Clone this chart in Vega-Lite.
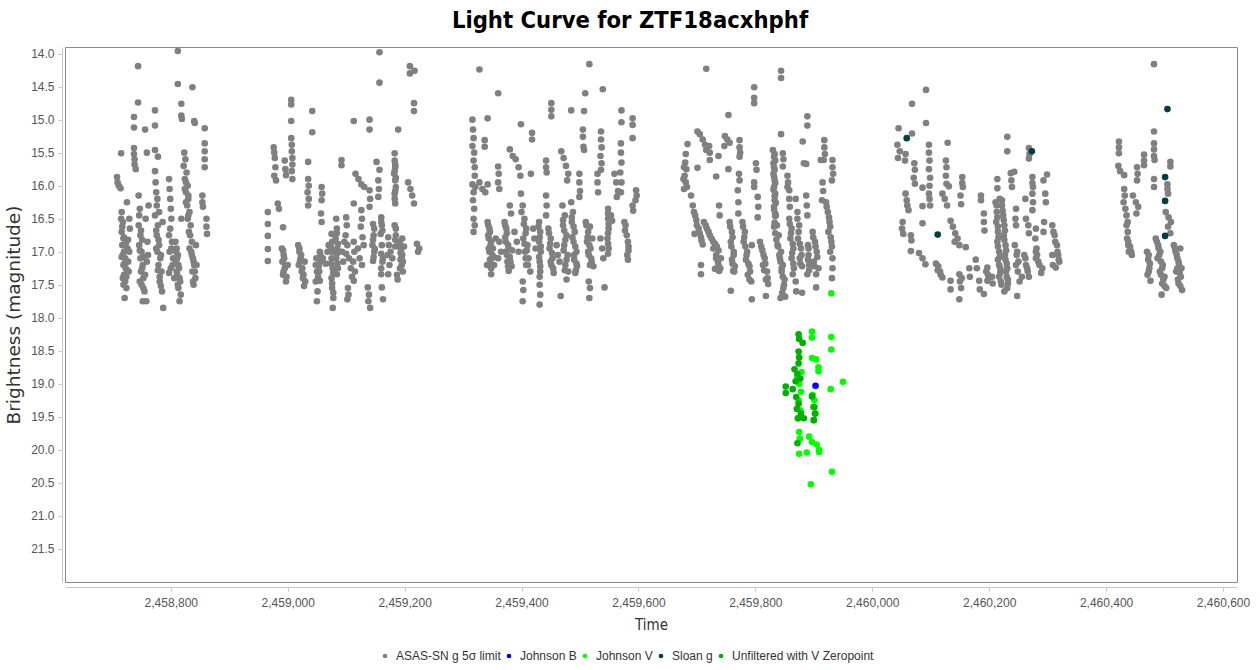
{
"$schema":"https://vega.github.io/schema/vega-lite/v6.json",
"autosize":{"type":"none"},
"width":1172,"height":535,
"padding":{"left":65,"top":47,"right":23,"bottom":88},
"background":"white",
"title":{"text":"Light Curve for ZTF18acxhphf","font":"Liberation Sans Narrow, DejaVu Sans Condensed, sans-serif","fontSize":23.6,"fontWeight":"bold","color":"#000000","anchor":"middle","dx":-21,"offset":14},
"config":{"view":{"stroke":"#8a8a8a","strokeWidth":1},"font":"Liberation Sans"},
"data":{"values":[
{"t":2458812,"m":13.96,"band":"A"},{"t":2458744,"m":14.19,"band":"A"},{"t":2458812,"m":14.46,"band":"A"},{"t":2458837,"m":14.51,"band":"A"},{"t":2458744,"m":14.74,"band":"A"},{"t":2458818,"m":14.76,"band":"A"},{"t":2458818,"m":14.94,"band":"A"},{"t":2458819,"m":14.99,"band":"A"},{"t":2458773,"m":14.86,"band":"A"},{"t":2458737,"m":14.96,"band":"A"},{"t":2458737,"m":15.12,"band":"A"},{"t":2458756,"m":15.15,"band":"A"},{"t":2458773,"m":15.09,"band":"A"},{"t":2458840,"m":15.02,"band":"A"},{"t":2458841,"m":15.05,"band":"A"},{"t":2458858,"m":15.13,"band":"A"},{"t":2458858,"m":15.36,"band":"A"},{"t":2458858,"m":15.48,"band":"A"},{"t":2458858,"m":15.6,"band":"A"},{"t":2458858,"m":15.72,"band":"A"},
{"t":2458715,"m":15.51,"band":"A"},{"t":2458737,"m":15.43,"band":"A"},{"t":2458737,"m":15.52,"band":"A"},{"t":2458738,"m":15.6,"band":"A"},{"t":2458738,"m":15.68,"band":"A"},{"t":2458740,"m":15.75,"band":"A"},{"t":2458759,"m":15.5,"band":"A"},{"t":2458773,"m":15.46,"band":"A"},{"t":2458778,"m":15.56,"band":"A"},
{"t":2458708,"m":15.87,"band":"A"},{"t":2458709,"m":15.95,"band":"A"},{"t":2458711,"m":16.0,"band":"A"},{"t":2458714,"m":16.04,"band":"A"},
{"t":2458716,"m":16.4,"band":"A"},{"t":2458718,"m":16.55,"band":"A"},{"t":2458716,"m":16.7,"band":"A"},{"t":2458719,"m":16.8,"band":"A"},{"t":2458717,"m":16.9,"band":"A"},{"t":2458720,"m":17.0,"band":"A"},{"t":2458718,"m":17.05,"band":"A"},{"t":2458722,"m":17.1,"band":"A"},{"t":2458719,"m":17.2,"band":"A"},{"t":2458723,"m":17.25,"band":"A"},{"t":2458720,"m":17.35,"band":"A"},{"t":2458722,"m":17.45,"band":"A"},{"t":2458724,"m":17.55,"band":"A"},{"t":2458721,"m":17.7,"band":"A"},{"t":2458726,"m":16.95,"band":"A"},{"t":2458727,"m":17.15,"band":"A"},{"t":2458725,"m":16.25,"band":"A"},{"t":2458729,"m":16.5,"band":"A"},{"t":2458730,"m":16.65,"band":"A"},{"t":2458728,"m":17.3,"band":"A"},
{"t":2458745,"m":16.15,"band":"A"},{"t":2458747,"m":16.35,"band":"A"},{"t":2458745,"m":16.6,"band":"A"},{"t":2458748,"m":16.75,"band":"A"},{"t":2458746,"m":16.9,"band":"A"},{"t":2458750,"m":17.0,"band":"A"},{"t":2458748,"m":17.1,"band":"A"},{"t":2458752,"m":17.2,"band":"A"},{"t":2458749,"m":17.3,"band":"A"},{"t":2458753,"m":17.4,"band":"A"},{"t":2458750,"m":17.5,"band":"A"},{"t":2458755,"m":17.6,"band":"A"},{"t":2458752,"m":17.75,"band":"A"},{"t":2458758,"m":17.75,"band":"A"},{"t":2458757,"m":16.5,"band":"A"},{"t":2458760,"m":16.85,"band":"A"},{"t":2458761,"m":17.05,"band":"A"},{"t":2458762,"m":16.3,"band":"A"},
{"t":2458773,"m":15.78,"band":"A"},{"t":2458774,"m":15.95,"band":"A"},{"t":2458775,"m":16.1,"band":"A"},{"t":2458776,"m":16.3,"band":"A"},{"t":2458773,"m":16.45,"band":"A"},{"t":2458778,"m":16.6,"band":"A"},{"t":2458776,"m":16.75,"band":"A"},{"t":2458780,"m":16.9,"band":"A"},{"t":2458777,"m":17.0,"band":"A"},{"t":2458782,"m":17.1,"band":"A"},{"t":2458779,"m":17.2,"band":"A"},{"t":2458784,"m":17.3,"band":"A"},{"t":2458781,"m":17.45,"band":"A"},{"t":2458785,"m":17.6,"band":"A"},{"t":2458787,"m":17.85,"band":"A"},{"t":2458786,"m":16.55,"band":"A"},
{"t":2458797,"m":15.9,"band":"A"},{"t":2458798,"m":16.05,"band":"A"},{"t":2458799,"m":16.2,"band":"A"},{"t":2458800,"m":16.35,"band":"A"},{"t":2458801,"m":16.5,"band":"A"},{"t":2458797,"m":16.75,"band":"A"},{"t":2458802,"m":16.85,"band":"A"},{"t":2458798,"m":17.0,"band":"A"},{"t":2458804,"m":17.1,"band":"A"},{"t":2458800,"m":17.25,"band":"A"},{"t":2458806,"m":17.4,"band":"A"},
{"t":2458808,"m":16.85,"band":"A"},{"t":2458810,"m":16.95,"band":"A"},{"t":2458812,"m":17.05,"band":"A"},{"t":2458809,"m":17.15,"band":"A"},{"t":2458814,"m":17.25,"band":"A"},{"t":2458811,"m":17.35,"band":"A"},{"t":2458816,"m":17.45,"band":"A"},{"t":2458813,"m":17.55,"band":"A"},{"t":2458815,"m":17.75,"band":"A"},{"t":2458818,"m":16.5,"band":"A"},
{"t":2458823,"m":15.5,"band":"A"},{"t":2458825,"m":15.6,"band":"A"},{"t":2458822,"m":15.7,"band":"A"},{"t":2458827,"m":15.8,"band":"A"},{"t":2458824,"m":15.9,"band":"A"},{"t":2458829,"m":16.0,"band":"A"},{"t":2458826,"m":16.1,"band":"A"},{"t":2458830,"m":16.2,"band":"A"},{"t":2458828,"m":16.3,"band":"A"},{"t":2458832,"m":16.4,"band":"A"},{"t":2458829,"m":16.5,"band":"A"},{"t":2458834,"m":16.6,"band":"A"},{"t":2458831,"m":16.7,"band":"A"},{"t":2458836,"m":16.85,"band":"A"},{"t":2458832,"m":16.95,"band":"A"},
{"t":2458835,"m":17.0,"band":"A"},{"t":2458838,"m":17.1,"band":"A"},{"t":2458840,"m":17.2,"band":"A"},{"t":2458837,"m":17.3,"band":"A"},{"t":2458842,"m":17.4,"band":"A"},{"t":2458839,"m":17.5,"band":"A"},{"t":2458843,"m":16.9,"band":"A"},
{"t":2458854,"m":16.15,"band":"A"},{"t":2458854,"m":16.25,"band":"A"},{"t":2458855,"m":16.32,"band":"A"},{"t":2458861,"m":16.5,"band":"A"},{"t":2458861,"m":16.62,"band":"A"},{"t":2458862,"m":16.73,"band":"A"},
{"t":2458717,"m":16.62,"band":"A"},{"t":2458720,"m":16.78,"band":"A"},{"t":2458723,"m":16.88,"band":"A"},{"t":2458716,"m":17.08,"band":"A"},{"t":2458721,"m":17.18,"band":"A"},{"t":2458725,"m":17.28,"band":"A"},{"t":2458718,"m":17.4,"band":"A"},{"t":2458724,"m":17.38,"band":"A"},{"t":2458719,"m":17.5,"band":"A"},{"t":2458727,"m":16.82,"band":"A"},{"t":2458729,"m":17.0,"band":"A"},{"t":2458715,"m":16.5,"band":"A"},
{"t":2458746,"m":16.45,"band":"A"},{"t":2458749,"m":16.68,"band":"A"},{"t":2458751,"m":16.82,"band":"A"},{"t":2458747,"m":16.98,"band":"A"},{"t":2458754,"m":17.08,"band":"A"},{"t":2458751,"m":17.25,"band":"A"},{"t":2458756,"m":17.35,"band":"A"},{"t":2458753,"m":17.55,"band":"A"},{"t":2458747,"m":17.45,"band":"A"},{"t":2458759,"m":17.15,"band":"A"},
{"t":2458775,"m":16.68,"band":"A"},{"t":2458779,"m":16.82,"band":"A"},{"t":2458775,"m":16.95,"band":"A"},{"t":2458783,"m":17.05,"band":"A"},{"t":2458778,"m":17.28,"band":"A"},{"t":2458781,"m":17.38,"band":"A"},{"t":2458783,"m":17.52,"band":"A"},{"t":2458777,"m":16.2,"band":"A"},{"t":2458780,"m":16.4,"band":"A"},
{"t":2458799,"m":16.65,"band":"A"},{"t":2458801,"m":16.95,"band":"A"},{"t":2458803,"m":17.2,"band":"A"},{"t":2458797,"m":17.32,"band":"A"},
{"t":2458809,"m":17.0,"band":"A"},{"t":2458811,"m":17.1,"band":"A"},{"t":2458813,"m":17.2,"band":"A"},{"t":2458810,"m":17.3,"band":"A"},{"t":2458815,"m":17.4,"band":"A"},{"t":2458812,"m":17.5,"band":"A"},{"t":2458817,"m":17.65,"band":"A"},
{"t":2458824,"m":16.05,"band":"A"},{"t":2458826,"m":16.25,"band":"A"},{"t":2458830,"m":16.45,"band":"A"},{"t":2458833,"m":16.75,"band":"A"},{"t":2458826,"m":15.95,"band":"A"},{"t":2458830,"m":16.15,"band":"A"},
{"t":2458836,"m":17.05,"band":"A"},{"t":2458839,"m":17.15,"band":"A"},{"t":2458841,"m":17.3,"band":"A"},{"t":2458838,"m":17.45,"band":"A"},{"t":2458844,"m":17.2,"band":"A"},
{"t":2458966,"m":16.4,"band":"A"},{"t":2458966,"m":16.58,"band":"A"},{"t":2458966,"m":16.76,"band":"A"},{"t":2458966,"m":16.96,"band":"A"},{"t":2458966,"m":17.14,"band":"A"},
{"t":2458976,"m":15.42,"band":"A"},{"t":2458977,"m":15.5,"band":"A"},{"t":2458978,"m":15.58,"band":"A"},{"t":2458979,"m":15.72,"band":"A"},{"t":2458977,"m":15.85,"band":"A"},{"t":2458980,"m":15.92,"band":"A"},
{"t":2458983,"m":16.27,"band":"A"},{"t":2458985,"m":16.35,"band":"A"},{"t":2458992,"m":16.63,"band":"A"},
{"t":2458990,"m":16.95,"band":"A"},{"t":2458993,"m":17.05,"band":"A"},{"t":2458991,"m":17.15,"band":"A"},{"t":2458995,"m":17.25,"band":"A"},{"t":2458992,"m":17.35,"band":"A"},{"t":2458997,"m":17.45,"band":"A"},{"t":2459000,"m":17.2,"band":"A"},
{"t":2458995,"m":15.62,"band":"A"},{"t":2458996,"m":15.75,"band":"A"},{"t":2458997,"m":15.84,"band":"A"},
{"t":2459006,"m":14.7,"band":"A"},{"t":2459006,"m":14.77,"band":"A"},{"t":2459006,"m":15.02,"band":"A"},{"t":2459006,"m":15.28,"band":"A"},{"t":2459007,"m":15.38,"band":"A"},{"t":2459007,"m":15.48,"band":"A"},{"t":2459008,"m":15.58,"band":"A"},{"t":2459008,"m":15.68,"band":"A"},{"t":2459007,"m":15.78,"band":"A"},{"t":2459008,"m":15.9,"band":"A"},
{"t":2459018,"m":16.9,"band":"A"},{"t":2459020,"m":17.0,"band":"A"},{"t":2459022,"m":17.1,"band":"A"},{"t":2459019,"m":17.2,"band":"A"},{"t":2459024,"m":17.3,"band":"A"},{"t":2459026,"m":17.4,"band":"A"},{"t":2459028,"m":17.52,"band":"A"},{"t":2459029,"m":17.15,"band":"A"},
{"t":2459035,"m":15.64,"band":"A"},{"t":2459035,"m":15.9,"band":"A"},{"t":2459036,"m":16.0,"band":"A"},{"t":2459034,"m":16.1,"band":"A"},{"t":2459036,"m":16.2,"band":"A"},{"t":2459035,"m":16.3,"band":"A"},
{"t":2459042,"m":14.87,"band":"A"},{"t":2459042,"m":15.19,"band":"A"},
{"t":2459049,"m":17.1,"band":"A"},{"t":2459050,"m":17.3,"band":"A"},{"t":2459048,"m":17.45,"band":"A"},{"t":2459051,"m":17.6,"band":"A"},{"t":2459050,"m":17.75,"band":"A"},
{"t":2459058,"m":16.02,"band":"A"},{"t":2459059,"m":16.12,"band":"A"},{"t":2459058,"m":16.22,"band":"A"},{"t":2459057,"m":16.42,"band":"A"},{"t":2459058,"m":16.55,"band":"A"},
{"t":2459055,"m":17.0,"band":"A"},{"t":2459056,"m":17.15,"band":"A"},{"t":2459054,"m":17.3,"band":"A"},{"t":2459055,"m":17.44,"band":"A"},
{"t":2459075,"m":16.73,"band":"A"},{"t":2459076,"m":16.85,"band":"A"},{"t":2459074,"m":16.93,"band":"A"},{"t":2459075,"m":17.1,"band":"A"},{"t":2459077,"m":17.25,"band":"A"},{"t":2459075,"m":17.4,"band":"A"},{"t":2459076,"m":17.55,"band":"A"},{"t":2459078,"m":17.7,"band":"A"},{"t":2459077,"m":17.85,"band":"A"},
{"t":2459083,"m":16.5,"band":"A"},{"t":2459084,"m":16.65,"band":"A"},{"t":2459082,"m":16.8,"band":"A"},{"t":2459085,"m":16.95,"band":"A"},{"t":2459083,"m":17.1,"band":"A"},{"t":2459086,"m":17.25,"band":"A"},{"t":2459084,"m":17.34,"band":"A"},
{"t":2459092,"m":15.61,"band":"A"},{"t":2459092,"m":15.69,"band":"A"},
{"t":2459100,"m":16.48,"band":"A"},{"t":2459101,"m":16.6,"band":"A"},{"t":2459099,"m":16.75,"band":"A"},{"t":2459102,"m":16.9,"band":"A"},{"t":2459100,"m":17.03,"band":"A"},
{"t":2459103,"m":17.55,"band":"A"},{"t":2459104,"m":17.65,"band":"A"},{"t":2459102,"m":17.72,"band":"A"},
{"t":2459113,"m":15.02,"band":"A"},{"t":2459113,"m":16.27,"band":"A"},{"t":2459113,"m":16.85,"band":"A"},{"t":2459114,"m":17.0,"band":"A"},{"t":2459112,"m":17.15,"band":"A"},{"t":2459115,"m":17.3,"band":"A"},{"t":2459113,"m":17.44,"band":"A"},
{"t":2459116,"m":15.82,"band":"A"},{"t":2459121,"m":15.9,"band":"A"},{"t":2459126,"m":15.98,"band":"A"},{"t":2459131,"m":16.02,"band":"A"},
{"t":2459126,"m":16.37,"band":"A"},{"t":2459127,"m":16.5,"band":"A"},{"t":2459125,"m":16.62,"band":"A"},{"t":2459128,"m":16.78,"band":"A"},{"t":2459130,"m":16.9,"band":"A"},
{"t":2459140,"m":15.0,"band":"A"},{"t":2459140,"m":15.15,"band":"A"},{"t":2459140,"m":16.07,"band":"A"},{"t":2459141,"m":16.2,"band":"A"},{"t":2459140,"m":16.32,"band":"A"},
{"t":2459137,"m":17.54,"band":"A"},{"t":2459139,"m":17.65,"band":"A"},{"t":2459138,"m":17.75,"band":"A"},{"t":2459141,"m":17.85,"band":"A"},
{"t":2459146,"m":16.58,"band":"A"},{"t":2459147,"m":16.75,"band":"A"},{"t":2459145,"m":16.9,"band":"A"},{"t":2459148,"m":17.0,"band":"A"},{"t":2459146,"m":17.14,"band":"A"},
{"t":2459152,"m":15.64,"band":"A"},{"t":2459155,"m":15.92,"band":"A"},{"t":2459156,"m":16.05,"band":"A"},{"t":2459155,"m":16.17,"band":"A"},
{"t":2459157,"m":13.98,"band":"A"},{"t":2459157,"m":14.44,"band":"A"},{"t":2459157,"m":15.76,"band":"A"},
{"t":2459160,"m":16.48,"band":"A"},{"t":2459161,"m":16.6,"band":"A"},{"t":2459159,"m":16.73,"band":"A"},{"t":2459160,"m":17.03,"band":"A"},{"t":2459162,"m":17.15,"band":"A"},{"t":2459160,"m":17.34,"band":"A"},{"t":2459161,"m":17.54,"band":"A"},{"t":2459163,"m":17.72,"band":"A"},
{"t":2459172,"m":16.78,"band":"A"},{"t":2459173,"m":16.9,"band":"A"},{"t":2459171,"m":17.05,"band":"A"},{"t":2459174,"m":17.2,"band":"A"},{"t":2459172,"m":17.34,"band":"A"},
{"t":2459183,"m":15.51,"band":"A"},{"t":2459183,"m":15.62,"band":"A"},{"t":2459184,"m":15.72,"band":"A"},{"t":2459182,"m":15.82,"band":"A"},{"t":2459184,"m":15.92,"band":"A"},{"t":2459185,"m":16.02,"band":"A"},{"t":2459183,"m":16.12,"band":"A"},{"t":2459184,"m":16.27,"band":"A"},{"t":2459183,"m":16.6,"band":"A"},{"t":2459185,"m":16.75,"band":"A"},{"t":2459184,"m":16.92,"band":"A"},
{"t":2459189,"m":15.15,"band":"A"},{"t":2459187,"m":17.35,"band":"A"},{"t":2459188,"m":17.42,"band":"A"},
{"t":2459192,"m":16.85,"band":"A"},{"t":2459194,"m":16.95,"band":"A"},{"t":2459196,"m":17.05,"band":"A"},{"t":2459193,"m":17.12,"band":"A"},{"t":2459195,"m":17.2,"band":"A"},{"t":2459197,"m":17.3,"band":"A"},{"t":2459194,"m":17.0,"band":"A"},
{"t":2459209,"m":14.19,"band":"A"},{"t":2459209,"m":14.3,"band":"A"},{"t":2459217,"m":14.26,"band":"A"},{"t":2459216,"m":14.75,"band":"A"},{"t":2459216,"m":14.87,"band":"A"},
{"t":2459206,"m":15.95,"band":"A"},{"t":2459210,"m":16.05,"band":"A"},{"t":2459213,"m":16.15,"band":"A"},{"t":2459216,"m":16.27,"band":"A"},
{"t":2459221,"m":16.88,"band":"A"},{"t":2459223,"m":17.0,"band":"A"},{"t":2459225,"m":16.95,"band":"A"},
{"t":2458992,"m":16.98,"band":"A"},{"t":2458994,"m":17.1,"band":"A"},{"t":2458996,"m":17.2,"band":"A"},{"t":2458993,"m":17.3,"band":"A"},{"t":2458998,"m":17.38,"band":"A"},
{"t":2459020,"m":16.95,"band":"A"},{"t":2459023,"m":17.05,"band":"A"},{"t":2459021,"m":17.15,"band":"A"},{"t":2459025,"m":17.25,"band":"A"},{"t":2459027,"m":17.35,"band":"A"},{"t":2459030,"m":17.45,"band":"A"},
{"t":2459048,"m":17.2,"band":"A"},{"t":2459052,"m":17.38,"band":"A"},{"t":2459056,"m":17.05,"band":"A"},{"t":2459053,"m":17.22,"band":"A"},
{"t":2459060,"m":17.1,"band":"A"},{"t":2459065,"m":17.18,"band":"A"},{"t":2459068,"m":17.0,"band":"A"},{"t":2459070,"m":16.9,"band":"A"},
{"t":2459076,"m":17.0,"band":"A"},{"t":2459074,"m":17.18,"band":"A"},{"t":2459078,"m":17.32,"band":"A"},{"t":2459076,"m":17.48,"band":"A"},{"t":2459078,"m":17.62,"band":"A"},
{"t":2459084,"m":16.72,"band":"A"},{"t":2459086,"m":16.88,"band":"A"},{"t":2459084,"m":17.03,"band":"A"},{"t":2459085,"m":17.18,"band":"A"},
{"t":2459093,"m":17.0,"band":"A"},{"t":2459095,"m":17.15,"band":"A"},{"t":2459097,"m":16.85,"band":"A"},
{"t":2459105,"m":17.1,"band":"A"},{"t":2459108,"m":17.25,"band":"A"},{"t":2459110,"m":17.38,"band":"A"},
{"t":2459120,"m":16.95,"band":"A"},{"t":2459123,"m":17.1,"band":"A"},{"t":2459127,"m":17.2,"band":"A"},
{"t":2459148,"m":16.65,"band":"A"},{"t":2459146,"m":16.82,"band":"A"},{"t":2459149,"m":16.96,"band":"A"},{"t":2459147,"m":17.08,"band":"A"},
{"t":2459160,"m":16.55,"band":"A"},{"t":2459162,"m":16.68,"band":"A"},{"t":2459161,"m":16.9,"band":"A"},{"t":2459163,"m":17.1,"band":"A"},{"t":2459160,"m":17.25,"band":"A"},
{"t":2459176,"m":17.0,"band":"A"},{"t":2459179,"m":17.1,"band":"A"},
{"t":2459190,"m":16.9,"band":"A"},{"t":2459193,"m":17.02,"band":"A"},{"t":2459191,"m":16.92,"band":"A"},{"t":2459195,"m":17.08,"band":"A"},{"t":2459197,"m":17.15,"band":"A"},{"t":2459192,"m":17.25,"band":"A"},{"t":2459196,"m":16.8,"band":"A"},{"t":2459199,"m":16.92,"band":"A"},
{"t":2459184,"m":15.68,"band":"A"},{"t":2459183,"m":15.78,"band":"A"},{"t":2459185,"m":15.88,"band":"A"},{"t":2459184,"m":16.08,"band":"A"},{"t":2459183,"m":16.2,"band":"A"},{"t":2459185,"m":16.65,"band":"A"},{"t":2459184,"m":16.82,"band":"A"},
{"t":2459328,"m":14.24,"band":"A"},{"t":2459516,"m":14.16,"band":"A"},{"t":2459360,"m":14.6,"band":"A"},{"t":2459509,"m":14.6,"band":"A"},{"t":2459539,"m":14.54,"band":"A"},
{"t":2459451,"m":14.75,"band":"A"},{"t":2459451,"m":14.85,"band":"A"},{"t":2459451,"m":14.95,"band":"A"},{"t":2459485,"m":14.86,"band":"A"},{"t":2459507,"m":14.87,"band":"A"},
{"t":2459571,"m":14.86,"band":"A"},{"t":2459571,"m":15.04,"band":"A"},{"t":2459590,"m":14.98,"band":"A"},{"t":2459590,"m":15.08,"band":"A"},{"t":2459590,"m":15.28,"band":"A"},
{"t":2459316,"m":15.0,"band":"A"},{"t":2459317,"m":15.15,"band":"A"},{"t":2459318,"m":15.28,"band":"A"},{"t":2459316,"m":15.4,"band":"A"},{"t":2459319,"m":15.5,"band":"A"},{"t":2459318,"m":15.62,"band":"A"},{"t":2459320,"m":15.72,"band":"A"},
{"t":2459316,"m":15.98,"band":"A"},{"t":2459318,"m":16.1,"band":"A"},{"t":2459317,"m":16.22,"band":"A"},{"t":2459319,"m":16.35,"band":"A"},{"t":2459318,"m":16.5,"band":"A"},{"t":2459320,"m":16.6,"band":"A"},
{"t":2459337,"m":15.31,"band":"A"},{"t":2459337,"m":15.41,"band":"A"},{"t":2459342,"m":14.98,"band":"A"},{"t":2459399,"m":15.07,"band":"A"},{"t":2459418,"m":15.2,"band":"A"},{"t":2459418,"m":15.3,"band":"A"},
{"t":2459505,"m":15.15,"band":"A"},{"t":2459505,"m":15.26,"band":"A"},{"t":2459506,"m":15.41,"band":"A"},{"t":2459507,"m":15.46,"band":"A"},
{"t":2459536,"m":15.18,"band":"A"},{"t":2459536,"m":15.3,"band":"A"},{"t":2459537,"m":15.42,"band":"A"},{"t":2459535,"m":15.55,"band":"A"},{"t":2459537,"m":15.66,"band":"A"},{"t":2459536,"m":15.76,"band":"A"},
{"t":2459570,"m":15.36,"band":"A"},{"t":2459570,"m":15.5,"band":"A"},{"t":2459571,"m":15.65,"band":"A"},{"t":2459569,"m":15.8,"band":"A"},{"t":2459571,"m":15.95,"band":"A"},{"t":2459570,"m":16.1,"band":"A"},
{"t":2459380,"m":15.45,"band":"A"},{"t":2459385,"m":15.55,"band":"A"},{"t":2459390,"m":15.6,"band":"A"},{"t":2459395,"m":15.72,"band":"A"},{"t":2459398,"m":15.85,"band":"A"},
{"t":2459360,"m":15.71,"band":"A"},{"t":2459361,"m":15.82,"band":"A"},{"t":2459360,"m":15.95,"band":"A"},{"t":2459362,"m":16.05,"band":"A"},
{"t":2459328,"m":15.95,"band":"A"},{"t":2459333,"m":16.05,"band":"A"},{"t":2459338,"m":16.1,"band":"A"},{"t":2459342,"m":15.98,"band":"A"},
{"t":2459342,"m":16.55,"band":"A"},{"t":2459345,"m":16.65,"band":"A"},{"t":2459343,"m":16.75,"band":"A"},{"t":2459348,"m":16.85,"band":"A"},{"t":2459344,"m":16.95,"band":"A"},{"t":2459350,"m":17.05,"band":"A"},{"t":2459346,"m":17.12,"band":"A"},{"t":2459353,"m":17.2,"band":"A"},{"t":2459348,"m":17.25,"band":"A"},{"t":2459356,"m":16.8,"band":"A"},{"t":2459348,"m":17.34,"band":"A"},
{"t":2459371,"m":16.55,"band":"A"},{"t":2459374,"m":16.65,"band":"A"},{"t":2459372,"m":16.78,"band":"A"},{"t":2459377,"m":16.9,"band":"A"},{"t":2459373,"m":17.0,"band":"A"},{"t":2459380,"m":17.08,"band":"A"},{"t":2459376,"m":17.15,"band":"A"},{"t":2459383,"m":17.22,"band":"A"},{"t":2459378,"m":17.29,"band":"A"},{"t":2459380,"m":16.3,"band":"A"},{"t":2459382,"m":16.42,"band":"A"},
{"t":2459399,"m":16.12,"band":"A"},{"t":2459402,"m":16.3,"band":"A"},{"t":2459405,"m":16.5,"band":"A"},{"t":2459408,"m":16.65,"band":"A"},{"t":2459403,"m":16.8,"band":"A"},{"t":2459410,"m":16.9,"band":"A"},{"t":2459406,"m":17.0,"band":"A"},{"t":2459412,"m":17.1,"band":"A"},{"t":2459408,"m":17.2,"band":"A"},{"t":2459415,"m":17.3,"band":"A"},{"t":2459416,"m":15.82,"band":"A"},
{"t":2459402,"m":17.45,"band":"A"},{"t":2459403,"m":17.58,"band":"A"},{"t":2459402,"m":17.75,"band":"A"},
{"t":2459430,"m":16.55,"band":"A"},{"t":2459432,"m":16.7,"band":"A"},{"t":2459430,"m":16.85,"band":"A"},{"t":2459433,"m":17.0,"band":"A"},{"t":2459431,"m":17.15,"band":"A"},{"t":2459432,"m":17.3,"band":"A"},{"t":2459431,"m":17.5,"band":"A"},{"t":2459432,"m":17.65,"band":"A"},{"t":2459431,"m":17.8,"band":"A"},
{"t":2459442,"m":15.62,"band":"A"},{"t":2459442,"m":15.72,"band":"A"},{"t":2459443,"m":15.8,"band":"A"},{"t":2459442,"m":16.15,"band":"A"},{"t":2459443,"m":16.3,"band":"A"},{"t":2459442,"m":16.45,"band":"A"},
{"t":2459446,"m":16.65,"band":"A"},{"t":2459450,"m":16.8,"band":"A"},{"t":2459448,"m":16.95,"band":"A"},{"t":2459453,"m":17.1,"band":"A"},{"t":2459451,"m":17.2,"band":"A"},{"t":2459455,"m":17.32,"band":"A"},
{"t":2459468,"m":15.48,"band":"A"},{"t":2459472,"m":15.58,"band":"A"},{"t":2459476,"m":15.7,"band":"A"},{"t":2459480,"m":15.82,"band":"A"},{"t":2459478,"m":15.92,"band":"A"},
{"t":2459470,"m":16.3,"band":"A"},{"t":2459474,"m":16.45,"band":"A"},{"t":2459471,"m":16.6,"band":"A"},{"t":2459477,"m":16.75,"band":"A"},{"t":2459473,"m":16.9,"band":"A"},{"t":2459479,"m":17.05,"band":"A"},{"t":2459475,"m":17.2,"band":"A"},{"t":2459480,"m":17.3,"band":"A"},{"t":2459477,"m":17.42,"band":"A"},{"t":2459467,"m":17.67,"band":"A"},
{"t":2459485,"m":16.25,"band":"A"},{"t":2459488,"m":16.4,"band":"A"},{"t":2459486,"m":16.55,"band":"A"},{"t":2459491,"m":16.7,"band":"A"},{"t":2459489,"m":16.85,"band":"A"},{"t":2459494,"m":17.0,"band":"A"},{"t":2459490,"m":17.12,"band":"A"},{"t":2459495,"m":17.22,"band":"A"},{"t":2459492,"m":17.32,"band":"A"},
{"t":2459499,"m":15.82,"band":"A"},{"t":2459499,"m":15.95,"band":"A"},{"t":2459500,"m":16.08,"band":"A"},{"t":2459499,"m":16.17,"band":"A"},
{"t":2459510,"m":16.55,"band":"A"},{"t":2459514,"m":16.7,"band":"A"},{"t":2459512,"m":16.85,"band":"A"},{"t":2459518,"m":16.95,"band":"A"},{"t":2459515,"m":17.05,"band":"A"},{"t":2459520,"m":17.15,"band":"A"},{"t":2459523,"m":17.22,"band":"A"},{"t":2459517,"m":16.62,"band":"A"},
{"t":2459515,"m":17.45,"band":"A"},{"t":2459517,"m":17.55,"band":"A"},{"t":2459516,"m":17.7,"band":"A"},
{"t":2459530,"m":15.82,"band":"A"},{"t":2459530,"m":15.95,"band":"A"},{"t":2459531,"m":16.1,"band":"A"},
{"t":2459548,"m":16.35,"band":"A"},{"t":2459548,"m":16.5,"band":"A"},{"t":2459549,"m":16.65,"band":"A"},{"t":2459547,"m":16.8,"band":"A"},{"t":2459549,"m":16.95,"band":"A"},{"t":2459548,"m":17.03,"band":"A"},{"t":2459542,"m":17.54,"band":"A"},
{"t":2459559,"m":15.82,"band":"A"},{"t":2459562,"m":15.95,"band":"A"},{"t":2459565,"m":16.08,"band":"A"},{"t":2459563,"m":16.17,"band":"A"},{"t":2459553,"m":16.45,"band":"A"},{"t":2459555,"m":16.53,"band":"A"},
{"t":2459576,"m":16.55,"band":"A"},{"t":2459577,"m":16.68,"band":"A"},{"t":2459582,"m":16.85,"band":"A"},{"t":2459583,"m":16.98,"band":"A"},{"t":2459582,"m":17.12,"band":"A"},
{"t":2459596,"m":16.07,"band":"A"},{"t":2459597,"m":16.15,"band":"A"},{"t":2459595,"m":16.22,"band":"A"},{"t":2459590,"m":16.3,"band":"A"},{"t":2459591,"m":16.38,"band":"A"},
{"t":2459343,"m":16.6,"band":"A"},{"t":2459346,"m":16.7,"band":"A"},{"t":2459344,"m":16.8,"band":"A"},{"t":2459347,"m":16.9,"band":"A"},{"t":2459345,"m":17.0,"band":"A"},{"t":2459349,"m":17.1,"band":"A"},{"t":2459347,"m":17.18,"band":"A"},{"t":2459351,"m":16.95,"band":"A"},{"t":2459353,"m":17.08,"band":"A"},{"t":2459341,"m":17.2,"band":"A"},
{"t":2459372,"m":16.6,"band":"A"},{"t":2459375,"m":16.72,"band":"A"},{"t":2459373,"m":16.85,"band":"A"},{"t":2459378,"m":16.95,"band":"A"},{"t":2459375,"m":17.05,"band":"A"},{"t":2459381,"m":17.15,"band":"A"},{"t":2459377,"m":17.22,"band":"A"},{"t":2459384,"m":16.98,"band":"A"},
{"t":2459400,"m":16.4,"band":"A"},{"t":2459404,"m":16.58,"band":"A"},{"t":2459407,"m":16.72,"band":"A"},{"t":2459405,"m":16.88,"band":"A"},{"t":2459409,"m":16.98,"band":"A"},{"t":2459407,"m":17.1,"band":"A"},{"t":2459411,"m":17.2,"band":"A"},
{"t":2459429,"m":16.62,"band":"A"},{"t":2459431,"m":16.78,"band":"A"},{"t":2459433,"m":16.92,"band":"A"},{"t":2459430,"m":17.08,"band":"A"},{"t":2459432,"m":17.22,"band":"A"},{"t":2459431,"m":17.38,"band":"A"},
{"t":2459447,"m":16.72,"band":"A"},{"t":2459449,"m":16.88,"band":"A"},{"t":2459452,"m":17.02,"band":"A"},{"t":2459450,"m":17.15,"band":"A"},{"t":2459454,"m":17.25,"band":"A"},
{"t":2459471,"m":16.52,"band":"A"},{"t":2459473,"m":16.68,"band":"A"},{"t":2459475,"m":16.82,"band":"A"},{"t":2459472,"m":16.98,"band":"A"},{"t":2459477,"m":17.12,"band":"A"},{"t":2459474,"m":17.28,"band":"A"},
{"t":2459486,"m":16.48,"band":"A"},{"t":2459489,"m":16.62,"band":"A"},{"t":2459487,"m":16.78,"band":"A"},{"t":2459492,"m":16.92,"band":"A"},{"t":2459490,"m":17.05,"band":"A"},{"t":2459494,"m":17.18,"band":"A"},{"t":2459493,"m":17.28,"band":"A"},
{"t":2459511,"m":16.6,"band":"A"},{"t":2459513,"m":16.78,"band":"A"},{"t":2459516,"m":16.9,"band":"A"},{"t":2459514,"m":17.0,"band":"A"},{"t":2459519,"m":17.1,"band":"A"},{"t":2459517,"m":17.2,"band":"A"},{"t":2459521,"m":16.8,"band":"A"},
{"t":2459548,"m":16.42,"band":"A"},{"t":2459549,"m":16.58,"band":"A"},{"t":2459548,"m":16.72,"band":"A"},{"t":2459548,"m":16.88,"band":"A"},
{"t":2459578,"m":16.6,"band":"A"},{"t":2459580,"m":16.75,"band":"A"},{"t":2459583,"m":16.92,"band":"A"},{"t":2459581,"m":17.05,"band":"A"},
{"t":2459460,"m":16.9,"band":"A"},{"t":2459462,"m":17.05,"band":"A"},{"t":2459465,"m":17.15,"band":"A"},
{"t":2459362,"m":16.85,"band":"A"},{"t":2459365,"m":17.0,"band":"A"},{"t":2459360,"m":17.1,"band":"A"},
{"t":2459388,"m":16.7,"band":"A"},{"t":2459392,"m":16.85,"band":"A"},{"t":2459395,"m":17.0,"band":"A"},
{"t":2459420,"m":16.65,"band":"A"},{"t":2459422,"m":16.8,"band":"A"},{"t":2459424,"m":16.95,"band":"A"},
{"t":2459535,"m":16.8,"band":"A"},{"t":2459538,"m":16.95,"band":"A"},{"t":2459540,"m":17.1,"band":"A"},
{"t":2459320,"m":15.85,"band":"A"},{"t":2459318,"m":16.7,"band":"A"},{"t":2459321,"m":16.02,"band":"A"},
{"t":2459716,"m":14.23,"band":"A"},{"t":2459844,"m":14.26,"band":"A"},{"t":2459844,"m":14.37,"band":"A"},{"t":2459798,"m":14.51,"band":"A"},{"t":2459798,"m":14.67,"band":"A"},{"t":2459798,"m":14.75,"band":"A"},{"t":2459754,"m":14.93,"band":"A"},{"t":2459889,"m":14.95,"band":"A"},{"t":2459889,"m":15.09,"band":"A"},{"t":2459844,"m":15.22,"band":"A"},
{"t":2459684,"m":15.37,"band":"A"},{"t":2459681,"m":15.52,"band":"A"},{"t":2459680,"m":15.65,"band":"A"},{"t":2459682,"m":15.75,"band":"A"},{"t":2459679,"m":15.85,"band":"A"},{"t":2459681,"m":15.95,"band":"A"},{"t":2459683,"m":16.02,"band":"A"},
{"t":2459701,"m":15.18,"band":"A"},{"t":2459705,"m":15.22,"band":"A"},{"t":2459710,"m":15.3,"band":"A"},{"t":2459714,"m":15.38,"band":"A"},{"t":2459716,"m":15.46,"band":"A"},
{"t":2459721,"m":15.4,"band":"A"},{"t":2459722,"m":15.5,"band":"A"},{"t":2459722,"m":15.61,"band":"A"},
{"t":2459748,"m":15.25,"band":"A"},{"t":2459752,"m":15.3,"band":"A"},{"t":2459756,"m":15.35,"band":"A"},{"t":2459747,"m":15.4,"band":"A"},{"t":2459737,"m":15.55,"band":"A"},
{"t":2459773,"m":15.31,"band":"A"},{"t":2459773,"m":15.42,"band":"A"},{"t":2459774,"m":15.5,"band":"A"},{"t":2459773,"m":15.56,"band":"A"},{"t":2459881,"m":15.33,"band":"A"},
{"t":2459918,"m":15.31,"band":"A"},{"t":2459918,"m":15.42,"band":"A"},{"t":2459919,"m":15.52,"band":"A"},{"t":2459917,"m":15.61,"band":"A"},
{"t":2459701,"m":15.73,"band":"A"},{"t":2459733,"m":15.86,"band":"A"},{"t":2459754,"m":15.75,"band":"A"},{"t":2459772,"m":15.82,"band":"A"},{"t":2459773,"m":15.92,"band":"A"},
{"t":2459801,"m":15.66,"band":"A"},{"t":2459802,"m":15.76,"band":"A"},{"t":2459798,"m":15.95,"band":"A"},{"t":2459798,"m":16.02,"band":"A"},
{"t":2459830,"m":15.46,"band":"A"},{"t":2459832,"m":15.56,"band":"A"},{"t":2459831,"m":15.66,"band":"A"},{"t":2459833,"m":15.76,"band":"A"},{"t":2459832,"m":15.86,"band":"A"},{"t":2459834,"m":15.96,"band":"A"},{"t":2459831,"m":16.06,"band":"A"},{"t":2459833,"m":16.16,"band":"A"},{"t":2459835,"m":16.26,"band":"A"},{"t":2459832,"m":16.36,"band":"A"},{"t":2459834,"m":16.46,"band":"A"},{"t":2459833,"m":16.56,"band":"A"},
{"t":2459847,"m":15.51,"band":"A"},{"t":2459848,"m":15.6,"band":"A"},{"t":2459847,"m":15.71,"band":"A"},
{"t":2459858,"m":16.07,"band":"A"},{"t":2459858,"m":16.2,"band":"A"},{"t":2459859,"m":16.32,"band":"A"},
{"t":2459883,"m":15.66,"band":"A"},{"t":2459887,"m":15.67,"band":"A"},{"t":2459912,"m":15.61,"band":"A"},
{"t":2459932,"m":15.61,"band":"A"},{"t":2459932,"m":15.72,"band":"A"},{"t":2459933,"m":15.82,"band":"A"},{"t":2459931,"m":15.92,"band":"A"},
{"t":2459915,"m":15.95,"band":"A"},{"t":2459916,"m":16.08,"band":"A"},{"t":2459914,"m":16.22,"band":"A"},
{"t":2459678,"m":15.72,"band":"A"},{"t":2459677,"m":15.9,"band":"A"},{"t":2459678,"m":16.05,"band":"A"},
{"t":2459690,"m":16.15,"band":"A"},{"t":2459693,"m":16.3,"band":"A"},{"t":2459697,"m":16.45,"band":"A"},{"t":2459700,"m":16.6,"band":"A"},{"t":2459705,"m":16.72,"band":"A"},{"t":2459708,"m":16.83,"band":"A"},
{"t":2459712,"m":16.55,"band":"A"},{"t":2459717,"m":16.65,"band":"A"},{"t":2459722,"m":16.75,"band":"A"},{"t":2459728,"m":16.85,"band":"A"},{"t":2459734,"m":16.92,"band":"A"},
{"t":2459728,"m":16.95,"band":"A"},{"t":2459733,"m":17.05,"band":"A"},{"t":2459736,"m":17.15,"band":"A"},{"t":2459740,"m":17.25,"band":"A"},{"t":2459738,"m":17.29,"band":"A"},
{"t":2459696,"m":16.73,"band":"A"},{"t":2459710,"m":16.89,"band":"A"},{"t":2459707,"m":17.2,"band":"A"},{"t":2459707,"m":17.34,"band":"A"},{"t":2459731,"m":17.26,"band":"A"},
{"t":2459738,"m":16.3,"band":"A"},{"t":2459739,"m":16.45,"band":"A"},
{"t":2459756,"m":16.55,"band":"A"},{"t":2459760,"m":16.7,"band":"A"},{"t":2459758,"m":16.85,"band":"A"},{"t":2459763,"m":17.0,"band":"A"},{"t":2459760,"m":17.12,"band":"A"},{"t":2459765,"m":17.22,"band":"A"},{"t":2459762,"m":17.29,"band":"A"},{"t":2459758,"m":17.59,"band":"A"},
{"t":2459770,"m":16.07,"band":"A"},{"t":2459771,"m":16.25,"band":"A"},{"t":2459771,"m":16.42,"band":"A"},
{"t":2459778,"m":16.55,"band":"A"},{"t":2459782,"m":16.7,"band":"A"},{"t":2459780,"m":16.85,"band":"A"},{"t":2459786,"m":17.0,"band":"A"},{"t":2459784,"m":17.12,"band":"A"},{"t":2459790,"m":17.22,"band":"A"},{"t":2459787,"m":17.35,"band":"A"},{"t":2459793,"m":17.45,"band":"A"},{"t":2459794,"m":16.9,"band":"A"},{"t":2459794,"m":17.72,"band":"A"},
{"t":2459804,"m":16.17,"band":"A"},{"t":2459805,"m":16.32,"band":"A"},{"t":2459804,"m":16.48,"band":"A"},
{"t":2459808,"m":16.85,"band":"A"},{"t":2459812,"m":16.98,"band":"A"},{"t":2459816,"m":17.1,"band":"A"},{"t":2459813,"m":17.2,"band":"A"},{"t":2459820,"m":17.3,"band":"A"},{"t":2459818,"m":17.42,"band":"A"},{"t":2459822,"m":17.49,"band":"A"},{"t":2459818,"m":17.67,"band":"A"},
{"t":2459835,"m":16.45,"band":"A"},{"t":2459837,"m":16.6,"band":"A"},{"t":2459840,"m":16.75,"band":"A"},{"t":2459838,"m":16.9,"band":"A"},{"t":2459844,"m":17.0,"band":"A"},{"t":2459842,"m":17.1,"band":"A"},{"t":2459847,"m":17.2,"band":"A"},{"t":2459845,"m":17.3,"band":"A"},{"t":2459850,"m":17.42,"band":"A"},{"t":2459848,"m":17.55,"band":"A"},{"t":2459851,"m":17.68,"band":"A"},{"t":2459843,"m":17.7,"band":"A"},
{"t":2459855,"m":16.02,"band":"A"},{"t":2459858,"m":16.5,"band":"A"},{"t":2459862,"m":16.65,"band":"A"},{"t":2459860,"m":16.8,"band":"A"},{"t":2459865,"m":16.95,"band":"A"},{"t":2459862,"m":17.1,"band":"A"},{"t":2459866,"m":17.25,"band":"A"},{"t":2459864,"m":17.34,"band":"A"},
{"t":2459869,"m":16.2,"band":"A"},{"t":2459872,"m":16.4,"band":"A"},{"t":2459875,"m":16.6,"band":"A"},{"t":2459873,"m":16.8,"band":"A"},{"t":2459878,"m":16.95,"band":"A"},{"t":2459876,"m":17.1,"band":"A"},{"t":2459880,"m":17.22,"band":"A"},{"t":2459869,"m":17.45,"band":"A"},{"t":2459870,"m":17.6,"band":"A"},
{"t":2459887,"m":16.15,"band":"A"},{"t":2459888,"m":16.3,"band":"A"},{"t":2459889,"m":16.45,"band":"A"},{"t":2459890,"m":16.9,"band":"A"},{"t":2459891,"m":17.05,"band":"A"},{"t":2459892,"m":17.2,"band":"A"},{"t":2459889,"m":17.34,"band":"A"},
{"t":2459898,"m":16.7,"band":"A"},{"t":2459902,"m":16.85,"band":"A"},{"t":2459905,"m":17.0,"band":"A"},{"t":2459900,"m":17.15,"band":"A"},{"t":2459908,"m":17.25,"band":"A"},{"t":2459904,"m":17.34,"band":"A"},{"t":2459904,"m":17.54,"band":"A"},{"t":2459880,"m":17.62,"band":"A"},
{"t":2459921,"m":16.25,"band":"A"},{"t":2459924,"m":16.4,"band":"A"},{"t":2459927,"m":16.55,"band":"A"},{"t":2459925,"m":16.7,"band":"A"},{"t":2459930,"m":16.85,"band":"A"},{"t":2459928,"m":17.0,"band":"A"},{"t":2459932,"m":17.25,"band":"A"},{"t":2459931,"m":17.4,"band":"A"},
{"t":2459695,"m":16.4,"band":"A"},{"t":2459699,"m":16.52,"band":"A"},{"t":2459703,"m":16.65,"band":"A"},{"t":2459707,"m":16.78,"band":"A"},
{"t":2459715,"m":16.6,"band":"A"},{"t":2459720,"m":16.7,"band":"A"},{"t":2459725,"m":16.8,"band":"A"},{"t":2459731,"m":16.88,"band":"A"},{"t":2459737,"m":16.98,"band":"A"},{"t":2459733,"m":17.1,"band":"A"},{"t":2459737,"m":17.2,"band":"A"},{"t":2459741,"m":17.1,"band":"A"},
{"t":2459757,"m":16.62,"band":"A"},{"t":2459761,"m":16.78,"band":"A"},{"t":2459759,"m":16.92,"band":"A"},{"t":2459763,"m":17.05,"band":"A"},{"t":2459761,"m":17.18,"band":"A"},{"t":2459764,"m":17.3,"band":"A"},
{"t":2459779,"m":16.62,"band":"A"},{"t":2459781,"m":16.78,"band":"A"},{"t":2459783,"m":16.92,"band":"A"},{"t":2459785,"m":17.05,"band":"A"},{"t":2459788,"m":17.18,"band":"A"},{"t":2459791,"m":17.3,"band":"A"},{"t":2459790,"m":17.42,"band":"A"},
{"t":2459810,"m":16.92,"band":"A"},{"t":2459814,"m":17.05,"band":"A"},{"t":2459817,"m":17.18,"band":"A"},{"t":2459815,"m":17.28,"band":"A"},{"t":2459821,"m":17.4,"band":"A"},
{"t":2459832,"m":16.62,"band":"A"},{"t":2459834,"m":16.72,"band":"A"},{"t":2459836,"m":16.82,"band":"A"},{"t":2459839,"m":16.92,"band":"A"},{"t":2459841,"m":17.05,"band":"A"},{"t":2459843,"m":17.15,"band":"A"},{"t":2459845,"m":17.25,"band":"A"},{"t":2459847,"m":17.38,"band":"A"},{"t":2459849,"m":17.5,"band":"A"},{"t":2459846,"m":17.62,"band":"A"},{"t":2459833,"m":15.52,"band":"A"},{"t":2459834,"m":15.62,"band":"A"},{"t":2459832,"m":15.72,"band":"A"},{"t":2459831,"m":15.82,"band":"A"},{"t":2459833,"m":15.92,"band":"A"},{"t":2459832,"m":16.02,"band":"A"},{"t":2459834,"m":16.12,"band":"A"},{"t":2459833,"m":16.22,"band":"A"},{"t":2459832,"m":16.32,"band":"A"},{"t":2459834,"m":16.42,"band":"A"},
{"t":2459859,"m":16.58,"band":"A"},{"t":2459861,"m":16.72,"band":"A"},{"t":2459864,"m":16.88,"band":"A"},{"t":2459863,"m":17.02,"band":"A"},{"t":2459865,"m":17.18,"band":"A"},
{"t":2459872,"m":16.5,"band":"A"},{"t":2459874,"m":16.7,"band":"A"},{"t":2459876,"m":16.88,"band":"A"},{"t":2459879,"m":17.05,"band":"A"},{"t":2459877,"m":17.18,"band":"A"},
{"t":2459891,"m":16.95,"band":"A"},{"t":2459890,"m":17.12,"band":"A"},{"t":2459892,"m":17.28,"band":"A"},
{"t":2459899,"m":16.78,"band":"A"},{"t":2459903,"m":16.92,"band":"A"},{"t":2459906,"m":17.08,"band":"A"},{"t":2459901,"m":17.22,"band":"A"},
{"t":2459922,"m":16.32,"band":"A"},{"t":2459926,"m":16.48,"band":"A"},{"t":2459928,"m":16.62,"band":"A"},{"t":2459929,"m":16.78,"band":"A"},{"t":2459931,"m":16.92,"band":"A"},{"t":2459932,"m":17.1,"band":"A"},
{"t":2459855,"m":15.85,"band":"A"},{"t":2459856,"m":15.95,"band":"A"},
{"t":2460092,"m":14.55,"band":"A"},{"t":2460068,"m":14.76,"band":"A"},{"t":2460092,"m":15.05,"band":"A"},{"t":2460045,"m":15.13,"band":"A"},{"t":2460068,"m":15.21,"band":"A"},
{"t":2460043,"m":15.38,"band":"A"},{"t":2460047,"m":15.48,"band":"A"},{"t":2460044,"m":15.58,"band":"A"},{"t":2460057,"m":15.52,"band":"A"},{"t":2460056,"m":15.62,"band":"A"},
{"t":2460129,"m":15.35,"band":"A"},{"t":2460231,"m":15.26,"band":"A"},{"t":2460231,"m":15.48,"band":"A"},{"t":2460268,"m":15.43,"band":"A"},{"t":2460269,"m":15.52,"band":"A"},{"t":2460268,"m":15.59,"band":"A"},
{"t":2460097,"m":15.38,"band":"A"},{"t":2460097,"m":15.5,"band":"A"},{"t":2460098,"m":15.62,"band":"A"},{"t":2460097,"m":15.75,"band":"A"},{"t":2460099,"m":15.88,"band":"A"},{"t":2460098,"m":16.0,"band":"A"},{"t":2460097,"m":16.12,"band":"A"},
{"t":2460126,"m":15.62,"band":"A"},{"t":2460127,"m":15.72,"band":"A"},{"t":2460126,"m":15.85,"band":"A"},{"t":2460127,"m":15.97,"band":"A"},
{"t":2460072,"m":15.66,"band":"A"},{"t":2460073,"m":15.76,"band":"A"},{"t":2460071,"m":15.88,"band":"A"},{"t":2460073,"m":15.97,"band":"A"},
{"t":2460086,"m":16.03,"band":"A"},{"t":2460131,"m":16.01,"band":"A"},
{"t":2460154,"m":15.87,"band":"A"},{"t":2460154,"m":15.96,"band":"A"},{"t":2460155,"m":16.02,"band":"A"},
{"t":2460214,"m":15.9,"band":"A"},{"t":2460214,"m":16.04,"band":"A"},
{"t":2460237,"m":15.81,"band":"A"},{"t":2460238,"m":15.92,"band":"A"},{"t":2460239,"m":16.02,"band":"A"},{"t":2460243,"m":15.79,"band":"A"},
{"t":2460274,"m":15.87,"band":"A"},{"t":2460274,"m":15.96,"band":"A"},{"t":2460275,"m":16.02,"band":"A"},{"t":2460299,"m":15.83,"band":"A"},{"t":2460293,"m":15.92,"band":"A"},
{"t":2460057,"m":16.12,"band":"A"},{"t":2460059,"m":16.22,"band":"A"},{"t":2460060,"m":16.3,"band":"A"},{"t":2460062,"m":16.37,"band":"A"},
{"t":2460086,"m":16.31,"band":"A"},{"t":2460098,"m":16.2,"band":"A"},{"t":2460099,"m":16.3,"band":"A"},
{"t":2460120,"m":16.12,"band":"A"},{"t":2460124,"m":16.2,"band":"A"},{"t":2460128,"m":16.3,"band":"A"},
{"t":2460151,"m":16.15,"band":"A"},{"t":2460152,"m":16.28,"band":"A"},
{"t":2460186,"m":16.15,"band":"A"},{"t":2460186,"m":16.22,"band":"A"},{"t":2460262,"m":16.2,"band":"A"},
{"t":2460274,"m":16.12,"band":"A"},{"t":2460275,"m":16.25,"band":"A"},{"t":2460274,"m":16.37,"band":"A"},
{"t":2460296,"m":16.12,"band":"A"},{"t":2460297,"m":16.25,"band":"A"},
{"t":2460052,"m":16.55,"band":"A"},{"t":2460051,"m":16.65,"band":"A"},{"t":2460053,"m":16.73,"band":"A"},
{"t":2460066,"m":16.75,"band":"A"},{"t":2460067,"m":16.83,"band":"A"},{"t":2460086,"m":16.57,"band":"A"},
{"t":2460134,"m":16.53,"band":"A"},{"t":2460138,"m":16.62,"band":"A"},{"t":2460142,"m":16.72,"band":"A"},{"t":2460146,"m":16.8,"band":"A"},{"t":2460149,"m":16.9,"band":"A"},{"t":2460141,"m":16.85,"band":"A"},
{"t":2460160,"m":16.93,"band":"A"},
{"t":2460191,"m":16.42,"band":"A"},{"t":2460191,"m":16.55,"band":"A"},{"t":2460192,"m":16.68,"band":"A"},
{"t":2460211,"m":16.25,"band":"A"},{"t":2460213,"m":16.4,"band":"A"},{"t":2460212,"m":16.55,"band":"A"},{"t":2460215,"m":16.7,"band":"A"},{"t":2460214,"m":16.85,"band":"A"},{"t":2460217,"m":17.0,"band":"A"},{"t":2460215,"m":17.12,"band":"A"},{"t":2460219,"m":17.25,"band":"A"},{"t":2460217,"m":17.38,"band":"A"},{"t":2460221,"m":17.5,"band":"A"},
{"t":2460222,"m":16.3,"band":"A"},{"t":2460224,"m":16.45,"band":"A"},{"t":2460226,"m":16.6,"band":"A"},{"t":2460225,"m":16.75,"band":"A"},{"t":2460228,"m":16.9,"band":"A"},{"t":2460227,"m":17.05,"band":"A"},{"t":2460230,"m":17.18,"band":"A"},{"t":2460229,"m":17.3,"band":"A"},{"t":2460232,"m":17.42,"band":"A"},{"t":2460231,"m":17.55,"band":"A"},
{"t":2460246,"m":16.35,"band":"A"},{"t":2460245,"m":16.5,"band":"A"},{"t":2460246,"m":16.6,"band":"A"},
{"t":2460263,"m":16.5,"band":"A"},{"t":2460267,"m":16.6,"band":"A"},{"t":2460268,"m":16.72,"band":"A"},
{"t":2460280,"m":16.65,"band":"A"},{"t":2460279,"m":16.8,"band":"A"},{"t":2460281,"m":16.95,"band":"A"},{"t":2460280,"m":17.1,"band":"A"},
{"t":2460294,"m":16.55,"band":"A"},{"t":2460293,"m":16.7,"band":"A"},
{"t":2460308,"m":16.6,"band":"A"},{"t":2460312,"m":16.75,"band":"A"},{"t":2460316,"m":16.9,"band":"A"},{"t":2460318,"m":17.05,"band":"A"},{"t":2460320,"m":17.15,"band":"A"},{"t":2460314,"m":17.24,"band":"A"},
{"t":2460066,"m":16.99,"band":"A"},
{"t":2460080,"m":17.02,"band":"A"},{"t":2460086,"m":17.1,"band":"A"},{"t":2460091,"m":17.19,"band":"A"},
{"t":2460109,"m":17.18,"band":"A"},{"t":2460112,"m":17.28,"band":"A"},{"t":2460117,"m":17.35,"band":"A"},{"t":2460120,"m":17.39,"band":"A"},
{"t":2460134,"m":17.44,"band":"A"},{"t":2460134,"m":17.57,"band":"A"},
{"t":2460149,"m":17.34,"band":"A"},{"t":2460150,"m":17.45,"band":"A"},{"t":2460149,"m":17.72,"band":"A"},
{"t":2460166,"m":17.25,"band":"A"},{"t":2460167,"m":17.38,"band":"A"},
{"t":2460177,"m":17.12,"band":"A"},{"t":2460179,"m":17.25,"band":"A"},
{"t":2460183,"m":17.44,"band":"A"},{"t":2460184,"m":17.57,"band":"A"},
{"t":2460197,"m":17.24,"band":"A"},{"t":2460198,"m":17.35,"band":"A"},{"t":2460197,"m":17.44,"band":"A"},{"t":2460191,"m":17.64,"band":"A"},
{"t":2460205,"m":17.38,"band":"A"},{"t":2460206,"m":17.48,"band":"A"},
{"t":2460248,"m":17.0,"band":"A"},{"t":2460250,"m":17.15,"band":"A"},{"t":2460249,"m":17.3,"band":"A"},{"t":2460248,"m":17.67,"band":"A"},
{"t":2460260,"m":17.05,"band":"A"},{"t":2460263,"m":17.2,"band":"A"},{"t":2460266,"m":17.3,"band":"A"},
{"t":2460280,"m":17.0,"band":"A"},{"t":2460284,"m":17.15,"band":"A"},{"t":2460291,"m":17.25,"band":"A"},
{"t":2460308,"m":17.05,"band":"A"},{"t":2460309,"m":17.2,"band":"A"},
{"t":2460213,"m":16.3,"band":"A"},{"t":2460214,"m":16.48,"band":"A"},{"t":2460215,"m":16.62,"band":"A"},{"t":2460216,"m":16.78,"band":"A"},{"t":2460215,"m":16.92,"band":"A"},{"t":2460218,"m":17.08,"band":"A"},{"t":2460217,"m":17.2,"band":"A"},{"t":2460219,"m":17.32,"band":"A"},{"t":2460220,"m":17.45,"band":"A"},
{"t":2460223,"m":16.38,"band":"A"},{"t":2460225,"m":16.52,"band":"A"},{"t":2460227,"m":16.68,"band":"A"},{"t":2460226,"m":16.82,"band":"A"},{"t":2460229,"m":16.98,"band":"A"},{"t":2460228,"m":17.12,"band":"A"},{"t":2460231,"m":17.25,"band":"A"},{"t":2460230,"m":17.38,"band":"A"},{"t":2460232,"m":17.48,"band":"A"},{"t":2460226,"m":17.6,"band":"A"},
{"t":2460218,"m":16.2,"band":"A"},{"t":2460222,"m":16.22,"band":"A"},
{"t":2460262,"m":17.1,"band":"A"},{"t":2460265,"m":17.25,"band":"A"},{"t":2460268,"m":17.38,"band":"A"},
{"t":2460282,"m":17.05,"band":"A"},{"t":2460286,"m":17.2,"band":"A"},{"t":2460289,"m":17.32,"band":"A"},
{"t":2460310,"m":16.7,"band":"A"},{"t":2460313,"m":16.85,"band":"A"},{"t":2460317,"m":17.0,"band":"A"},{"t":2460319,"m":17.12,"band":"A"},
{"t":2460113,"m":17.22,"band":"A"},{"t":2460116,"m":17.3,"band":"A"},
{"t":2460153,"m":17.4,"band":"A"},{"t":2460152,"m":17.55,"band":"A"},
{"t":2460195,"m":17.3,"band":"A"},{"t":2460199,"m":17.4,"band":"A"},
{"t":2460244,"m":16.9,"band":"A"},{"t":2460247,"m":17.05,"band":"A"},{"t":2460246,"m":17.2,"band":"A"},
{"t":2460252,"m":17.45,"band":"A"},{"t":2460256,"m":17.38,"band":"A"},
{"t":2460482,"m":14.16,"band":"A"},{"t":2460482,"m":15.18,"band":"A"},{"t":2460482,"m":15.36,"band":"A"},{"t":2460482,"m":15.45,"band":"A"},{"t":2460482,"m":15.55,"band":"A"},{"t":2460483,"m":15.61,"band":"A"},
{"t":2460422,"m":15.33,"band":"A"},{"t":2460422,"m":15.42,"band":"A"},{"t":2460422,"m":15.51,"band":"A"},
{"t":2460465,"m":15.53,"band":"A"},{"t":2460465,"m":15.62,"band":"A"},{"t":2460465,"m":15.69,"band":"A"},
{"t":2460510,"m":15.64,"band":"A"},{"t":2460510,"m":15.71,"band":"A"},
{"t":2460421,"m":15.7,"band":"A"},{"t":2460424,"m":15.78,"band":"A"},{"t":2460431,"m":15.84,"band":"A"},
{"t":2460453,"m":15.72,"band":"A"},{"t":2460454,"m":15.82,"band":"A"},{"t":2460453,"m":15.92,"band":"A"},
{"t":2460482,"m":15.9,"band":"A"},{"t":2460482,"m":16.02,"band":"A"},
{"t":2460505,"m":15.98,"band":"A"},{"t":2460505,"m":16.05,"band":"A"},{"t":2460506,"m":16.12,"band":"A"},
{"t":2460431,"m":16.05,"band":"A"},{"t":2460432,"m":16.15,"band":"A"},{"t":2460430,"m":16.25,"band":"A"},{"t":2460433,"m":16.35,"band":"A"},{"t":2460435,"m":16.45,"band":"A"},{"t":2460437,"m":16.55,"band":"A"},
{"t":2460446,"m":16.15,"band":"A"},{"t":2460451,"m":16.25,"band":"A"},{"t":2460455,"m":16.32,"band":"A"},{"t":2460452,"m":16.42,"band":"A"},
{"t":2460502,"m":16.4,"band":"A"},{"t":2460507,"m":16.48,"band":"A"},{"t":2460511,"m":16.55,"band":"A"},{"t":2460506,"m":16.62,"band":"A"},{"t":2460510,"m":16.72,"band":"A"},
{"t":2460436,"m":16.8,"band":"A"},{"t":2460438,"m":16.9,"band":"A"},{"t":2460441,"m":16.98,"band":"A"},{"t":2460444,"m":17.05,"band":"A"},{"t":2460439,"m":17.0,"band":"A"},
{"t":2460470,"m":17.0,"band":"A"},{"t":2460472,"m":17.12,"band":"A"},{"t":2460474,"m":17.25,"band":"A"},{"t":2460471,"m":17.35,"band":"A"},{"t":2460476,"m":17.44,"band":"A"},
{"t":2460485,"m":16.8,"band":"A"},{"t":2460489,"m":16.9,"band":"A"},{"t":2460493,"m":17.0,"band":"A"},{"t":2460488,"m":17.1,"band":"A"},{"t":2460497,"m":17.2,"band":"A"},{"t":2460492,"m":17.3,"band":"A"},{"t":2460500,"m":17.38,"band":"A"},{"t":2460496,"m":17.48,"band":"A"},{"t":2460503,"m":17.55,"band":"A"},{"t":2460495,"m":17.65,"band":"A"},
{"t":2460516,"m":16.9,"band":"A"},{"t":2460519,"m":17.0,"band":"A"},{"t":2460522,"m":17.1,"band":"A"},{"t":2460525,"m":17.2,"band":"A"},{"t":2460520,"m":17.3,"band":"A"},{"t":2460528,"m":17.38,"band":"A"},{"t":2460524,"m":17.48,"band":"A"},{"t":2460530,"m":17.58,"band":"A"},{"t":2460527,"m":16.95,"band":"A"},{"t":2460529,"m":17.25,"band":"A"},
{"t":2460487,"m":16.85,"band":"A"},{"t":2460490,"m":16.95,"band":"A"},{"t":2460491,"m":17.05,"band":"A"},{"t":2460494,"m":17.15,"band":"A"},{"t":2460496,"m":17.25,"band":"A"},{"t":2460494,"m":17.35,"band":"A"},{"t":2460498,"m":17.42,"band":"A"},{"t":2460500,"m":17.52,"band":"A"},
{"t":2460518,"m":16.95,"band":"A"},{"t":2460521,"m":17.05,"band":"A"},{"t":2460524,"m":17.15,"band":"A"},{"t":2460522,"m":17.25,"band":"A"},{"t":2460526,"m":17.32,"band":"A"},{"t":2460523,"m":17.42,"band":"A"},{"t":2460527,"m":17.52,"band":"A"},
{"t":2460473,"m":17.05,"band":"A"},{"t":2460475,"m":17.18,"band":"A"},{"t":2460473,"m":17.3,"band":"A"},
{"t":2460438,"m":16.85,"band":"A"},{"t":2460441,"m":16.92,"band":"A"},{"t":2460443,"m":17.0,"band":"A"},
{"t":2460435,"m":16.6,"band":"A"},{"t":2460437,"m":16.7,"band":"A"},
{"t":2459930,"m":17.63,"band":"V"},{"t":2459897,"m":18.21,"band":"V"},{"t":2459897,"m":18.3,"band":"V"},{"t":2459930,"m":18.29,"band":"V"},{"t":2459930,"m":18.48,"band":"V"},{"t":2459897,"m":18.61,"band":"V"},{"t":2459904,"m":18.63,"band":"V"},{"t":2459908,"m":18.75,"band":"V"},{"t":2459908,"m":18.81,"band":"V"},{"t":2459950,"m":18.97,"band":"V"},{"t":2459929,"m":19.08,"band":"V"},{"t":2459898,"m":19.17,"band":"V"},{"t":2459901,"m":19.25,"band":"V"},{"t":2459899,"m":19.35,"band":"V"},{"t":2459903,"m":19.45,"band":"V"},{"t":2459900,"m":19.55,"band":"V"},{"t":2459875,"m":19.0,"band":"V"},{"t":2459878,"m":19.12,"band":"V"},{"t":2459874,"m":19.25,"band":"V"},{"t":2459877,"m":19.4,"band":"V"},{"t":2459873,"m":19.52,"band":"V"},{"t":2459875,"m":19.73,"band":"V"},{"t":2459876,"m":19.83,"band":"V"},{"t":2459892,"m":19.8,"band":"V"},{"t":2459897,"m":19.88,"band":"V"},{"t":2459905,"m":19.92,"band":"V"},{"t":2459909,"m":20.0,"band":"V"},{"t":2459875,"m":20.06,"band":"V"},{"t":2459888,"m":20.04,"band":"V"},{"t":2459909,"m":20.03,"band":"V"},{"t":2459931,"m":20.33,"band":"V"},{"t":2459895,"m":20.52,"band":"V"},{"t":2459872,"m":18.9,"band":"V"},{"t":2459879,"m":18.82,"band":"V"},
{"t":2459874,"m":18.25,"band":"U"},{"t":2459875,"m":18.32,"band":"U"},{"t":2459881,"m":18.38,"band":"U"},{"t":2459874,"m":18.51,"band":"U"},{"t":2459875,"m":18.6,"band":"U"},{"t":2459874,"m":18.69,"band":"U"},{"t":2459867,"m":18.78,"band":"U"},{"t":2459872,"m":18.85,"band":"U"},{"t":2459877,"m":18.92,"band":"U"},{"t":2459869,"m":18.96,"band":"U"},{"t":2459852,"m":19.04,"band":"U"},{"t":2459852,"m":19.14,"band":"U"},{"t":2459864,"m":19.08,"band":"U"},{"t":2459870,"m":19.2,"band":"U"},{"t":2459874,"m":19.3,"band":"U"},{"t":2459871,"m":19.38,"band":"U"},{"t":2459878,"m":19.45,"band":"U"},{"t":2459873,"m":19.52,"band":"U"},{"t":2459883,"m":19.52,"band":"U"},{"t":2459901,"m":19.35,"band":"U"},{"t":2459902,"m":19.45,"band":"U"},{"t":2459900,"m":19.55,"band":"U"},{"t":2459872,"m":19.9,"band":"U"},{"t":2459897,"m":19.19,"band":"U"},
{"t":2459903,"m":19.03,"band":"B"},
{"t":2460059,"m":15.28,"band":"S"},{"t":2460273,"m":15.48,"band":"S"},{"t":2460112,"m":16.74,"band":"S"},{"t":2460505,"m":14.84,"band":"S"},{"t":2460501,"m":15.87,"band":"S"},{"t":2460501,"m":16.23,"band":"S"},{"t":2460501,"m":16.76,"band":"S"}
]},
"mark":{"type":"point","filled":true,"shape":"circle","size":44,"opacity":1,"strokeWidth":0},
"encoding":{
"x":{"field":"t","type":"quantitative","title":"Time","scale":{"domain":[2458619,2460624],"nice":false,"zero":false},
"axis":{"values":[2458800,2459000,2459200,2459400,2459600,2459800,2460000,2460200,2460400,2460600],"format":",d","grid":false,"offset":5,"domainColor":"#c8c8c8","tickColor":"#c8c8c8","tickSize":4,"labelFont":"Liberation Sans","labelFontSize":12,"labelColor":"#555555","labelPadding":6,"titleFont":"Liberation Sans Narrow, DejaVu Sans Condensed, sans-serif","titleFontSize":15,"titleFontWeight":"normal","titleColor":"#333333","titlePadding":9}},
"y":{"field":"m","type":"quantitative","title":"Brightness (magnitude)","scale":{"domain":[13.9,22.0],"reverse":true,"nice":false,"zero":false},
"axis":{"values":[14.0,14.5,15.0,15.5,16.0,16.5,17.0,17.5,18.0,18.5,19.0,19.5,20.0,20.5,21.0,21.5],"format":".1f","grid":false,"offset":3,"domainColor":"#c8c8c8","tickColor":"#c8c8c8","tickSize":4,"labelFont":"Liberation Sans","labelFontSize":12,"labelColor":"#555555","labelPadding":4,"titleFont":"DejaVu Sans","titleFontSize":18.5,"titleFontWeight":"normal","titleColor":"#333333","titlePadding":7}},
"color":{"field":"band","type":"nominal","scale":{"domain":["A","B","V","S","U"],"range":["#808080","#0000ff","#00ff00","#003f3f","#00b000"]},
"legend":{"title":null,"orient":"none","legendX":314,"legendY":603,"direction":"horizontal","symbolType":"circle","symbolSize":22,"labelFont":"Liberation Sans","labelFontSize":12,"labelColor":"#333333","columnPadding":2,"labelOffset":5,"labelExpr":"{'A':'ASAS-SN g 5σ limit','B':'Johnson B','V':'Johnson V','S':'Sloan g','U':'Unfiltered with V Zeropoint'}[datum.label]"}}
}
}
